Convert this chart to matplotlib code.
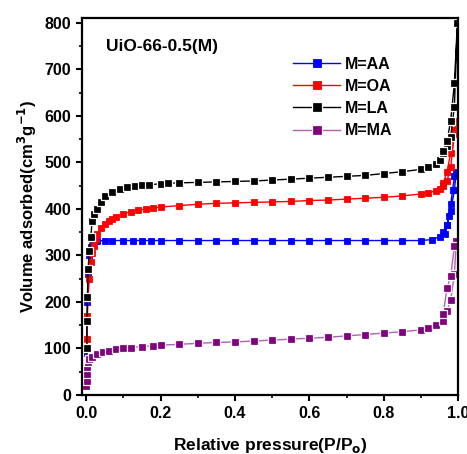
import matplotlib
matplotlib.use("Agg")
import matplotlib.pyplot as plt
from matplotlib.ticker import MultipleLocator

# Relative pressure (adsorption then desorption branch near saturation)
p_aa = [0.0005, 0.001, 0.002, 0.003, 0.005, 0.008, 0.012, 0.02, 0.03, 0.05, 0.07, 0.1,
        0.125, 0.15, 0.175, 0.2, 0.25, 0.3, 0.35, 0.4, 0.45, 0.5, 0.55, 0.6, 0.65, 0.7,
        0.75, 0.8, 0.85, 0.9, 0.93, 0.95, 0.96, 0.97, 0.98, 0.99, 0.995,
        0.99, 0.985, 0.98, 0.975, 0.97, 0.965]
v_aa = [30, 90, 160, 200, 260, 300, 318, 328, 331, 332, 332, 332,
        332, 332, 332, 332, 332, 332, 332, 332, 332, 332, 332, 332, 332, 332,
        332, 332, 332, 332, 334, 340, 350, 365, 395, 440, 480,
        470, 440, 410, 385, 365, 345]

p_oa = [0.0005, 0.001, 0.002, 0.003, 0.005, 0.008, 0.012, 0.016, 0.02, 0.025, 0.03, 0.04,
        0.05, 0.06, 0.07, 0.08, 0.1, 0.12, 0.14, 0.16, 0.18, 0.2, 0.25, 0.3, 0.35,
        0.4, 0.45, 0.5, 0.55, 0.6, 0.65, 0.7, 0.75, 0.8, 0.85, 0.9, 0.92, 0.94,
        0.95, 0.96, 0.97, 0.98, 0.99, 0.997,
        0.99, 0.98, 0.97, 0.96]
v_oa = [20, 60, 120, 170, 210, 250, 285, 305, 320, 335, 345, 358,
        367, 374, 379, 383, 389, 394, 397, 400, 402, 404, 407, 410, 412,
        413, 414, 415, 416, 418, 419, 421, 423, 425, 428, 432, 435, 439,
        443, 450, 460, 490, 560, 590,
        570, 520, 480, 455]

p_la = [0.0005, 0.001, 0.002, 0.003, 0.005, 0.008, 0.012, 0.016, 0.02, 0.03, 0.04,
        0.05, 0.07, 0.09, 0.11, 0.13, 0.15, 0.17, 0.2, 0.22, 0.25, 0.3, 0.35, 0.4,
        0.45, 0.5, 0.55, 0.6, 0.65, 0.7, 0.75, 0.8, 0.85, 0.9, 0.92, 0.94, 0.95,
        0.96, 0.97, 0.98, 0.99, 0.998,
        0.99, 0.98, 0.97, 0.96]
v_la = [30, 100, 160, 210, 270, 310, 340, 375, 390, 400, 415,
        428, 437, 443, 447, 449, 451, 452, 454, 455, 456, 457, 458, 459,
        460, 462, 464, 466, 468, 470, 472, 476, 480, 485, 490, 496, 505,
        520, 535, 555, 620, 800,
        670, 590, 545, 525]

p_ma = [0.0003, 0.0006, 0.001, 0.002, 0.004, 0.008, 0.015, 0.03, 0.045, 0.06, 0.08,
        0.1, 0.12, 0.15, 0.18, 0.2, 0.25, 0.3, 0.35, 0.4, 0.45, 0.5, 0.55, 0.6,
        0.65, 0.7, 0.75, 0.8, 0.85, 0.9, 0.92, 0.94, 0.96, 0.97, 0.98, 0.99, 0.995,
        0.99, 0.98, 0.97, 0.96]
v_ma = [20, 30, 45, 60, 70, 78, 82, 88, 92, 95, 98,
        100, 102, 104, 106, 107, 109, 111, 113, 114, 116, 118, 120, 122,
        124, 127, 130, 133, 136, 140, 144, 150, 160, 180, 205, 260, 330,
        320, 255, 230, 175]

# label, x, y, marker colour, line colour, marker edge
series = [
    ("M=AA", p_aa, v_aa, "#0000ff", "#0000ff", "#0000ff"),
    ("M=OA", p_oa, v_oa, "#ff0000", "#ff0000", "#ff0000"),
    ("M=LA", p_la, v_la, "#000000", "#000000", "white"),
    ("M=MA", p_ma, v_ma, "#800080", "#b060b8", "white"),
]

plt.rcParams["font.family"] = ["Liberation Sans", "DejaVu Sans"]
plt.rcParams["font.weight"] = "bold"
plt.rcParams["mathtext.default"] = "bf"

fig = plt.figure(figsize=(4.67, 4.54), dpi=100)
ax = fig.add_axes([0.176, 0.130, 0.805, 0.830])

for label, p, v, mc, lc, ec in series:
    white = ec == "white"
    ax.plot(p, v, color=lc, linewidth=1.0, marker="s",
            markersize=6.0 if white else 5.0,
            markerfacecolor=mc, markeredgecolor=ec,
            markeredgewidth=0.9 if white else 0.6, label=label)

ax.set_xlim(-0.011, 1.0)
ax.set_ylim(0, 810)
ax.xaxis.set_major_locator(MultipleLocator(0.2))
ax.xaxis.set_minor_locator(MultipleLocator(0.1))
ax.yaxis.set_major_locator(MultipleLocator(100))
ax.yaxis.set_minor_locator(MultipleLocator(50))
ax.xaxis.set_major_formatter(plt.FuncFormatter(lambda x, _: f"{x:.1f}"))
ax.tick_params(which="major", length=4.5, width=1.5, labelsize=11.5)
ax.tick_params(which="minor", length=2.5, width=1.2)
for s in ax.spines.values():
    s.set_linewidth(1.6)

ax.set_xlabel("Relative pressure(P/P$_{o}$)", fontsize=12.5, fontweight="bold",
              labelpad=11)
ax.set_ylabel("Volume adsorbed(cm$^{3}$g$^{-1}$)", fontsize=12,
              fontweight="bold", labelpad=4)
ax.text(0.064, 0.925, "UiO-66-0.5(M)", transform=ax.transAxes, fontsize=12.5,
        fontweight="bold", va="center")

leg = ax.legend(loc="upper left", bbox_to_anchor=(0.545, 0.915), frameon=False,
                fontsize=11.5, handlelength=2.9, handletextpad=0.3,
                labelspacing=0.45, borderaxespad=0, markerscale=1.1)

fig.savefig("out.png", dpi=100)
